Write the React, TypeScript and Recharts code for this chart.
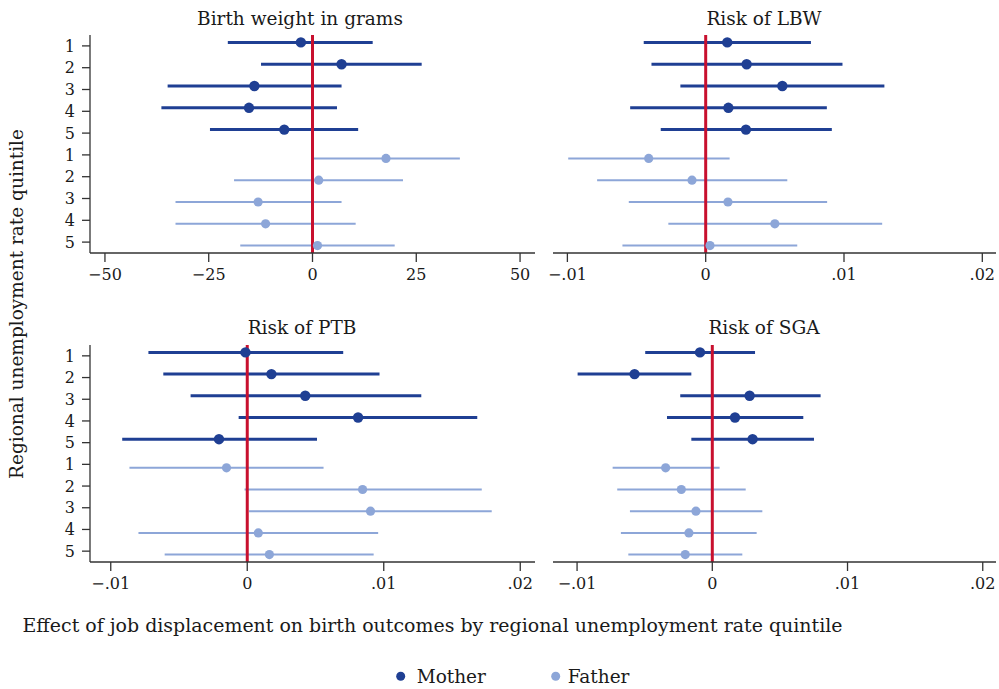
import React from 'react';
import { ScatterChart, Scatter, XAxis, YAxis, ErrorBar, ReferenceLine } from 'recharts';

// ---------- data ----------
const quintiles = [1, 2, 3, 4, 5];
const rowLabels = ['1', '2', '3', '4', '5', '1', '2', '3', '4', '5'];
const rowTicks = [1, 2, 3, 4, 5, 6, 7, 8, 9, 10];

// Birth weight in grams
const bwMotherEst = [-2.8, 7.0, -14.0, -15.3, -6.8];
const bwMotherLo = [-20.4, -12.4, -34.9, -36.4, -24.7];
const bwMotherHi = [14.5, 26.3, 7.0, 5.9, 11.0];
const bwFatherEst = [17.7, 1.5, -13.1, -11.3, 1.2];
const bwFatherLo = [0.0, -18.9, -33.0, -33.0, -17.4];
const bwFatherHi = [35.5, 21.8, 7.0, 10.4, 19.8];

// Risk of LBW
const lbwMotherEst = [0.00156, 0.00296, 0.00554, 0.00164, 0.00291];
const lbwMotherLo = [-0.00448, -0.00392, -0.00183, -0.00546, -0.00325];
const lbwMotherHi = [0.00761, 0.00989, 0.01292, 0.00876, 0.00912];
const lbwFatherEst = [-0.00412, -0.00099, 0.00161, 0.005, 0.00031];
const lbwFatherLo = [-0.00994, -0.00785, -0.00556, -0.0027, -0.00602];
const lbwFatherHi = [0.00173, 0.0059, 0.00878, 0.01276, 0.00662];

// Risk of PTB
const ptbMotherEst = [-0.00013, 0.00177, 0.00425, 0.00812, -0.00207];
const ptbMotherLo = [-0.00724, -0.00615, -0.00415, -0.00063, -0.00916];
const ptbMotherHi = [0.00703, 0.00969, 0.01275, 0.01685, 0.00511];
const ptbFatherEst = [-0.00152, 0.00845, 0.00903, 0.00081, 0.00162];
const ptbFatherLo = [-0.00863, -0.0002, 0.00013, -0.00797, -0.00605];
const ptbFatherHi = [0.00559, 0.01718, 0.01791, 0.00959, 0.00926];

// Risk of SGA
const sgaMotherEst = [-0.00091, -0.00575, 0.00276, 0.00168, 0.00298];
const sgaMotherLo = [-0.00496, -0.00996, -0.00237, -0.00335, -0.00155];
const sgaMotherHi = [0.00316, -0.00155, 0.00801, 0.00673, 0.00752];
const sgaFatherEst = [-0.00345, -0.00229, -0.00121, -0.00173, -0.002];
const sgaFatherLo = [-0.00737, -0.00703, -0.00609, -0.00676, -0.00621];
const sgaFatherHi = [0.00054, 0.00247, 0.0037, 0.00328, 0.00222];

const bwTicks = [-50, -25, 0, 25, 50];
const riskTicks = [-0.01, 0, 0.01, 0.02];

const titles = ['Birth weight in grams', 'Risk of LBW', 'Risk of PTB', 'Risk of SGA'];
const yTitle = 'Regional unemployment rate quintile';
const note = 'Effect of job displacement on birth outcomes by regional unemployment rate quintile';
const legendNames = ['Mother', 'Father'];

// ---------- styles ----------
const FONT = '"DejaVu Serif", serif';
const MOTHER = '#1f3f93';
const FATHER = '#8da6d8';
const RED = '#c8102e';
const AXIS = '#333333';
const TEXT = '#1a1a1a';

type Row = { q: number; y: number; x: number; err: [number, number] };

function buildRows(est: number[], lo: number[], hi: number[], father: boolean): Row[] {
  return quintiles.map((q, i) => ({
    q,
    y: father ? q + 5 + 0.16 : q - 0.16,
    x: est[i],
    err: [est[i] - lo[i], hi[i] - est[i]],
  }));
}

const fmt = (v: number) => {
  if (v === 0) return '0';
  const s = String(Math.abs(v)).replace(/^0\./, '.');
  return (v < 0 ? '\u2212' : '') + s;
};

const noShape = () => <g />;
const dotShape = (r: number, color: string) => (props: any) => (
  <circle cx={props.cx} cy={props.cy} r={r} fill={color} />
);

type PanelProps = {
  left: number;
  top: number;
  width: number;
  height: number;
  margin: { top: number; right: number; bottom: number; left: number };
  showY: boolean;
  xHeight: number;
  domain: [number, number];
  ticks: number[];
  mother: Row[];
  father: Row[];
};

function Panel(p: PanelProps) {
  return (
    <div style={{ position: 'absolute', left: p.left, top: p.top }}>
      <ScatterChart width={p.width} height={p.height} margin={p.margin}>
        <XAxis
          type="number"
          dataKey="x"
          domain={p.domain}
          ticks={p.ticks}
          interval={0}
          allowDataOverflow
          tickFormatter={fmt}
          height={p.xHeight}
          stroke={AXIS}
          strokeWidth={1.3}
          tickSize={9}
          tickMargin={7}
          tick={{ fill: TEXT, fontSize: 16, fontFamily: FONT }}
        />
        <YAxis
          type="number"
          dataKey="y"
          domain={[0.5, 10.5]}
          reversed
          ticks={rowTicks}
          interval={0}
          allowDataOverflow
          tickFormatter={(v: number) => rowLabels[Math.round(v) - 1]}
          hide={!p.showY}
          width={p.showY ? 90 : 0}
          stroke={AXIS}
          strokeWidth={1.3}
          tickSize={8}
          tickMargin={7}
          tick={{ fill: TEXT, fontSize: 16, fontFamily: FONT }}
        />
        <Scatter data={p.mother} isAnimationActive={false} shape={noShape}>
          <ErrorBar dataKey="err" direction="x" width={0} stroke={MOTHER} strokeWidth={3} />
        </Scatter>
        <Scatter data={p.father} isAnimationActive={false} shape={noShape}>
          <ErrorBar dataKey="err" direction="x" width={0} stroke={FATHER} strokeWidth={2} />
        </Scatter>
        <ReferenceLine x={0} stroke={RED} strokeWidth={3} />
        <Scatter data={p.mother} isAnimationActive={false} shape={dotShape(5.2, MOTHER)} />
        <Scatter data={p.father} isAnimationActive={false} shape={dotShape(4.6, FATHER)} />
      </ScatterChart>
    </div>
  );
}

export default function App() {
  const topMargin = { top: 35, right: 10, bottom: 0, left: 0 };
  const rightMargin = { top: 35, right: 3, bottom: 0, left: 13 };
  return (
    <div
      style={{
        position: 'absolute',
        left: 0,
        top: 0,
        width: 999,
        height: 689,
        background: '#ffffff',
        fontFamily: FONT,
      }}
    >
      <Panel
        left={0}
        top={0}
        width={545}
        height={300}
        margin={topMargin}
        showY
        xHeight={47}
        domain={[-53.6, 53.6]}
        ticks={bwTicks}
        mother={buildRows(bwMotherEst, bwMotherLo, bwMotherHi, false)}
        father={buildRows(bwFatherEst, bwFatherLo, bwFatherHi, true)}
      />
      <Panel
        left={540}
        top={0}
        width={459}
        height={300}
        margin={rightMargin}
        showY={false}
        xHeight={47}
        domain={[-0.01104, 0.02099]}
        ticks={riskTicks}
        mother={buildRows(lbwMotherEst, lbwMotherLo, lbwMotherHi, false)}
        father={buildRows(lbwFatherEst, lbwFatherLo, lbwFatherHi, true)}
      />
      <Panel
        left={0}
        top={310}
        width={545}
        height={300}
        margin={topMargin}
        showY
        xHeight={48}
        domain={[-0.01152, 0.02108]}
        ticks={riskTicks}
        mother={buildRows(ptbMotherEst, ptbMotherLo, ptbMotherHi, false)}
        father={buildRows(ptbFatherEst, ptbFatherLo, ptbFatherHi, true)}
      />
      <Panel
        left={540}
        top={310}
        width={459}
        height={300}
        margin={rightMargin}
        showY={false}
        xHeight={48}
        domain={[-0.01178, 0.02098]}
        ticks={riskTicks}
        mother={buildRows(sgaMotherEst, sgaMotherLo, sgaMotherHi, false)}
        father={buildRows(sgaFatherEst, sgaFatherLo, sgaFatherHi, true)}
      />
      <svg
        width={999}
        height={689}
        style={{ position: 'absolute', left: 0, top: 0, pointerEvents: 'none' }}
      >
        <g fontFamily={FONT} fill={TEXT} fontSize={18.5}>
          <text x={300} y={24.5} textAnchor="middle">{titles[0]}</text>
          <text x={764} y={24.5} textAnchor="middle">{titles[1]}</text>
          <text x={302} y={334} textAnchor="middle">{titles[2]}</text>
          <text x={764} y={334} textAnchor="middle">{titles[3]}</text>
          <text
            x={0}
            y={0}
            textAnchor="middle"
            transform="translate(22.5,304) rotate(-90)"
          >
            {yTitle}
          </text>
          <text x={22.5} y={632} textLength={820} lengthAdjust="spacingAndGlyphs">
            {note}
          </text>
          <circle cx={400.7} cy={676.3} r={4.5} fill={MOTHER} />
          <text x={416.7} y={683}>{legendNames[0]}</text>
          <circle cx={555.7} cy={676.3} r={4.5} fill={FATHER} />
          <text x={567.7} y={683}>{legendNames[1]}</text>
        </g>
      </svg>
    </div>
  );
}
